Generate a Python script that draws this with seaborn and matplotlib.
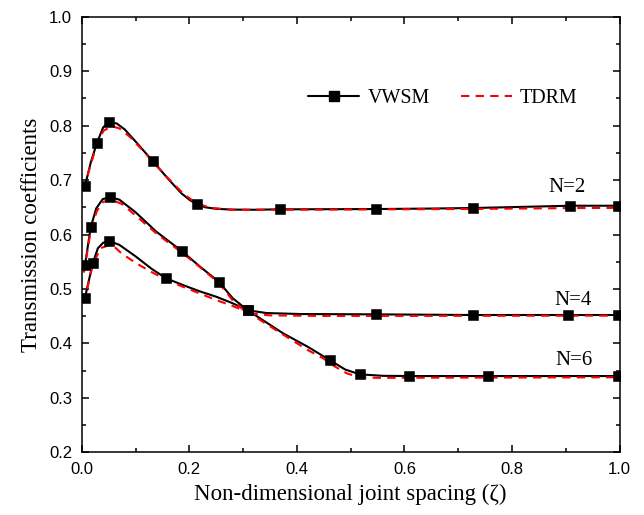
import matplotlib
matplotlib.use("Agg")
import numpy as np
import matplotlib.pyplot as plt
from matplotlib.lines import Line2D
from matplotlib.ticker import MultipleLocator
import seaborn as sns

# ---- VWSM curves (solid black) ----
vwsm_n2_x = [0.006, 0.017, 0.028, 0.040, 0.051, 0.065, 0.080, 0.100, 0.132, 0.160,
             0.185, 0.200, 0.214, 0.230, 0.250, 0.280, 0.320, 0.369, 0.450, 0.547,
             0.650, 0.727, 0.820, 0.908, 0.997]
vwsm_n2_y = [0.689, 0.733, 0.7675, 0.797, 0.8066, 0.804, 0.793, 0.771, 0.735, 0.703,
             0.676, 0.664, 0.6555, 0.650, 0.6472, 0.6458, 0.6455, 0.6463, 0.6465, 0.6468,
             0.6477, 0.6487, 0.6508, 0.6529, 0.6529]
vwsm_n2_marks = [0, 2, 4, 8, 12, 17, 19, 21, 23, 24]

vwsm_n4_x = [0.006, 0.0167, 0.027, 0.039, 0.053, 0.070, 0.100, 0.139, 0.186, 0.220,
             0.2547, 0.281, 0.3087, 0.344, 0.406, 0.5467, 0.727, 0.905, 0.997]
vwsm_n4_y = [0.5434, 0.6132, 0.648, 0.665, 0.6689, 0.664, 0.641, 0.605, 0.5697, 0.541,
             0.5133, 0.4828, 0.4608, 0.4558, 0.4540, 0.4534, 0.4522, 0.4522, 0.4522]
vwsm_n4_marks = [0, 1, 4, 8, 10, 12, 15, 16, 17, 18]

vwsm_n6_x = [0.006, 0.0205, 0.030, 0.040, 0.0513, 0.070, 0.100, 0.130, 0.1568, 0.188,
             0.220, 0.250, 0.280, 0.3087, 0.3745, 0.420, 0.461, 0.490, 0.5175, 0.560,
             0.6086, 0.756, 0.997]
vwsm_n6_y = [0.4839, 0.5471, 0.5747, 0.585, 0.588, 0.581, 0.560, 0.537, 0.5196, 0.5073,
             0.4955, 0.4858, 0.4740, 0.4608, 0.4185, 0.3940, 0.3695, 0.3520, 0.3432, 0.3405,
             0.3401, 0.3401, 0.3401]
vwsm_n6_marks = [0, 1, 4, 8, 13, 16, 18, 20, 21, 22]

# ---- TDRM curves (dashed red) ----
tdrm_n2_x = [0.004, 0.017, 0.028, 0.040, 0.055, 0.070, 0.090, 0.110, 0.132, 0.160,
             0.190, 0.214, 0.240, 0.280, 0.370, 0.550, 0.730, 0.900, 1.000]
tdrm_n2_y = [0.683, 0.730, 0.764, 0.790, 0.799, 0.795, 0.779, 0.758, 0.734, 0.704,
             0.674, 0.657, 0.649, 0.6455, 0.6455, 0.6462, 0.6470, 0.6485, 0.6490]

tdrm_n4_x = [0.004, 0.0167, 0.028, 0.040, 0.055, 0.075, 0.100, 0.140, 0.186, 0.220,
             0.255, 0.280, 0.300, 0.320, 0.350, 0.450, 0.600, 0.800, 1.000]
tdrm_n4_y = [0.530, 0.607, 0.643, 0.660, 0.664, 0.656, 0.635, 0.601, 0.567, 0.540,
             0.511, 0.480, 0.462, 0.4545, 0.4515, 0.4505, 0.4505, 0.4508, 0.4510]

tdrm_n6_x = [0.004, 0.020, 0.035, 0.050, 0.060, 0.074, 0.100, 0.130, 0.157, 0.188,
             0.250, 0.280, 0.3087, 0.370, 0.420, 0.449, 0.470, 0.493, 0.517, 0.550,
             0.700, 1.000]
tdrm_n6_y = [0.474, 0.543, 0.575, 0.580, 0.578, 0.5655, 0.548, 0.531, 0.517, 0.5041,
             0.4797, 0.469, 0.4575, 0.419, 0.388, 0.3726, 0.358, 0.345, 0.3377, 0.3368,
             0.3372, 0.3378]

# curve annotations
n_labels = ["N=2", "N=4", "N=6"]
n_label_x = [0.902, 0.914, 0.916]
n_label_y = [0.679, 0.4705, 0.3605]

legend_labels = ["VWSM", "TDRM"]
x_ticks = [0.0, 0.2, 0.4, 0.6, 0.8, 1.0]
y_ticks = [0.2, 0.3, 0.4, 0.5, 0.6, 0.7, 0.8, 0.9, 1.0]

sns.set_theme(style="ticks")
plt.rcParams["font.family"] = ["Liberation Sans", "DejaVu Sans"]
plt.rcParams.update({
    "axes.edgecolor": "black",
    "axes.linewidth": 1.1,
    "xtick.color": "black",
    "ytick.color": "black",
    "text.color": "black",
    "axes.labelcolor": "black",
})
serif = ["Liberation Serif", "DejaVu Serif"]

fig = plt.figure(figsize=(6.44, 5.15), dpi=100)
ax = fig.add_axes([0.1269, 0.1217, 0.8351, 0.8458])

dash = (0, (4, 3))
vwsm = [(vwsm_n2_x, vwsm_n2_y, vwsm_n2_marks),
        (vwsm_n4_x, vwsm_n4_y, vwsm_n4_marks),
        (vwsm_n6_x, vwsm_n6_y, vwsm_n6_marks)]
tdrm = [(tdrm_n2_x, tdrm_n2_y), (tdrm_n4_x, tdrm_n4_y), (tdrm_n6_x, tdrm_n6_y)]

for xs, ys, _ in vwsm:
    sns.lineplot(x=xs, y=ys, ax=ax, color="black", lw=1.5, sort=False,
                 estimator=None, errorbar=None, zorder=2)
for xs, ys in tdrm:
    sns.lineplot(x=xs, y=ys, ax=ax, color="#ff0000", lw=1.5, linestyle=dash,
                 sort=False, estimator=None, errorbar=None, zorder=3)
for xs, ys, marks in vwsm:
    sns.scatterplot(x=np.take(xs, marks), y=np.take(ys, marks), ax=ax, marker="s",
                    s=56, color="black", edgecolor="black", linewidth=0.4, zorder=4)

for lab, lx, ly in zip(n_labels, n_label_x, n_label_y):
    ax.text(lx, ly, lab, ha="center", va="baseline", fontsize=15, family=serif)

handles = [Line2D([], [], color="black", lw=1.5, marker="s", markersize=7),
           Line2D([], [], color="#ff0000", lw=1.5, linestyle=dash)]
ax.legend(handles, legend_labels, loc="center left", bbox_to_anchor=(0.4213, 0.8127),
          ncol=2, frameon=False, handlelength=2.55, handletextpad=0.4,
          columnspacing=1.55, borderpad=0, borderaxespad=0, numpoints=1,
          prop={"family": serif, "size": 14.4})

ax.set_xlim(0.0, 1.0)
ax.set_ylim(0.2, 1.0)
ax.set_xticks(x_ticks)
ax.set_yticks(y_ticks)
ax.set_xticklabels([f"{v:.1f}" for v in x_ticks])
ax.set_yticklabels([f"{v:.1f}" for v in y_ticks])
ax.xaxis.set_minor_locator(MultipleLocator(0.1))
ax.yaxis.set_minor_locator(MultipleLocator(0.05))
ax.tick_params(which="both", direction="in", top=True, right=True, width=1.1,
               labelsize=12, pad=7)
ax.tick_params(which="major", length=5)
ax.tick_params(which="minor", length=3)
for sp in ax.spines.values():
    sp.set_visible(True)
    sp.set_linewidth(1.1)
    sp.set_color("black")

ax.set_xlabel("Non-dimensional joint spacing (ζ)", fontsize=16.5, family=serif, labelpad=5)
ax.set_ylabel("Transmission coefficients", fontsize=16.5, family=serif, labelpad=5)

fig.savefig("out.png", dpi=100)
